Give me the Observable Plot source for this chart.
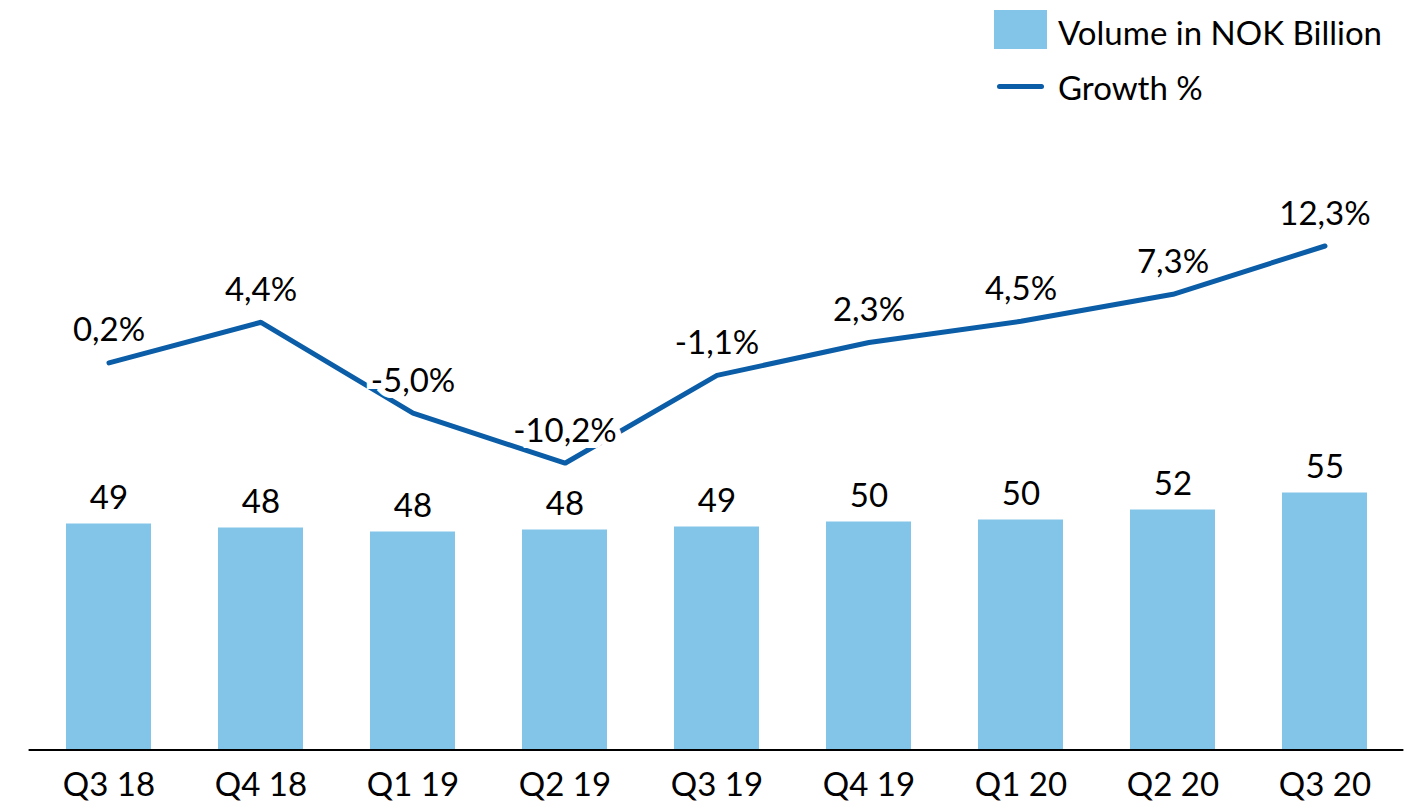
<!DOCTYPE html>
<html>
<head>
<meta charset="utf-8">
<script src="https://cdn.jsdelivr.net/npm/d3@7"></script>
<script src="https://cdn.jsdelivr.net/npm/@observablehq/plot@0.6"></script>
<style>
  html, body { margin: 0; padding: 0; background: #fff; }
  body { width: 1425px; height: 803px; position: relative; overflow: hidden; font-family: Lato, "Open Sans", sans-serif; }
  #chart { position: absolute; left: 0; top: 0; }
  .legend { position: absolute; left: 994px; font-size: 33px; color: #000; }
  .legend .item { position: absolute; white-space: nowrap; display: flex; align-items: center; }
  .legend .sw-bar { width: 53px; height: 39px; background: #82C5E8; }
  .legend .sw-line { width: 47px; height: 5px; border-radius: 3px; background: #0A5DA6; margin-left: 3px; margin-right: 3px; }
  .legend .lbl { margin-left: 11px; }
</style>
</head>
<body>
<div id="chart"></div>
<div class="legend">
  <div class="item" style="top:12px;left:0;height:39px;"><div class="sw-bar" style="margin-top:-4px"></div><span class="lbl">Volume in NOK Billion</span></div>
  <div class="item" style="top:67px;left:0;height:39px;"><div class="sw-line"></div><span class="lbl">Growth %</span></div>
</div>
<script>
const quarters = ["Q3 18", "Q4 18", "Q1 19", "Q2 19", "Q3 19", "Q4 19", "Q1 20", "Q2 20", "Q3 20"];
const volume = [49.2, 48.4, 47.6, 48.0, 48.6, 49.6, 50.0, 52.0, 55.4];
const growth = [0.2, 4.4, -5.0, -10.2, -1.1, 2.3, 4.5, 7.3, 12.3];

// primary (volume) and secondary (growth) axis ranges, both hidden
const volumeDomain = [4, 144];
const growthDomain = [-39.9, 32.6];
const toPrimary = g => volumeDomain[0] + (g - growthDomain[0]) / (growthDomain[1] - growthDomain[0]) * (volumeDomain[1] - volumeDomain[0]);

const data = quarters.map((q, i) => ({q, v: volume[i], g: growth[i]}));
const fmtPct = g => g.toFixed(1).replace(".", ",") + "%";

const chart = Plot.plot({
  width: 1425,
  height: 803,
  marginTop: 49.5,
  marginBottom: 53.5,
  marginLeft: 28.6,
  marginRight: 21.6,
  style: {fontFamily: "Lato, 'Open Sans', sans-serif", fontSize: "33px", color: "#000", background: "transparent"},
  x: {type: "band", domain: quarters, paddingInner: 0.444, paddingOuter: 0.222, label: null},
  y: {domain: volumeDomain, axis: null},
  marks: [
    Plot.barY(data, {x: "q", y1: volumeDomain[0], y2: "v", fill: "#82C5E8"}),
    Plot.ruleY([volumeDomain[0]], {stroke: "#000", strokeWidth: 2}),
    Plot.text(data, {x: "q", y: "v", text: d => String(Math.round(d.v)), lineAnchor: "middle", dy: -26, fill: "#000"}),
    Plot.line(data, {x: "q", y: d => toPrimary(d.g), stroke: "#0A5DA6", strokeWidth: 5, strokeLinejoin: "miter"}),
    Plot.text(data, {x: "q", y: d => toPrimary(d.g), text: d => fmtPct(d.g), lineAnchor: "middle", dy: -32, fill: "#000", stroke: "#fff", strokeWidth: 12, strokeLinejoin: "miter"}),
    Plot.axisX({tickSize: 0, tickPadding: 22.5, label: null, fontSize: 33})
  ]
});
document.getElementById("chart").appendChild(chart);
</script>
</body>
</html>
